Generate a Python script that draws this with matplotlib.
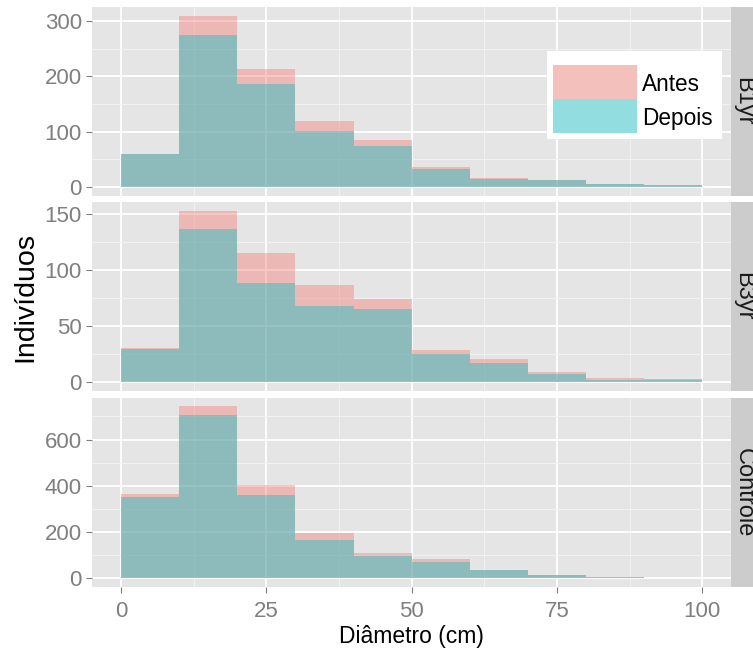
import numpy as np
import matplotlib.pyplot as plt
from matplotlib.patches import Rectangle

plt.rcParams['font.family'] = ['Liberation Sans', 'DejaVu Sans']

# histogram bins (left edges, width 10 cm)
bin_left = [0, 10, 20, 30, 40, 50, 60, 70, 80, 90]
bin_width = 10

facets = ['B1yr', 'B3yr', 'Controle']
b1_antes = [59, 309, 213, 119, 85, 37, 16, 13, 6, 3]
b1_depois = [59, 275, 186, 101, 75, 32, 14, 13, 6, 3]
b3_antes = [31, 153, 115, 87, 74, 29, 21, 9, 4, 2]
b3_depois = [30, 137, 89, 68, 65, 25, 17, 7, 2, 3]
ctrl_antes = [364, 743, 403, 198, 108, 85, 35, 14, 7, 0]
ctrl_depois = [352, 704, 360, 167, 97, 72, 35, 14, 7, 0]

y_major = [[0, 100, 200, 300], [0, 50, 100, 150], [0, 200, 400, 600]]
x_ticks = [0, 25, 50, 75, 100]
groups = ['Antes', 'Depois']
colors = ['#F8766D', '#00BFC4']
alpha = 0.4

W, H = 753, 649
fig = plt.figure(figsize=(W / 100, H / 100), dpi=100)

def rect(x0, y0, x1, y1):
    # pixel box (top-left origin) -> figure fraction rect
    return [x0 / W, 1 - y1 / H, (x1 - x0) / W, (y1 - y0) / H]

panel_y = [(7.3, 195.7), (202.3, 390.8), (397.8, 587.0)]
px0, px1 = 92, 731.3
data = [(b1_antes, b1_depois), (b3_antes, b3_depois), (ctrl_antes, ctrl_depois)]
grey50 = '#7F7F7F'

for i, (name, (antes, depois)) in enumerate(zip(facets, data)):
    y0, y1 = panel_y[i]
    ax = fig.add_axes(rect(px0, y0, px1, y1))
    ax.set_facecolor('#E5E5E5')
    for s in ax.spines.values():
        s.set_visible(False)
    ax.bar(bin_left, antes, width=bin_width, align='edge', color=colors[0], alpha=alpha, lw=0, zorder=3)
    ax.bar(bin_left, depois, width=bin_width, align='edge', color=colors[1], alpha=alpha, lw=0, zorder=4)
    ymax = max(max(antes), max(depois))
    ax.set_ylim(-0.05 * ymax, 1.05 * ymax)
    ax.set_xlim(-5, 105)
    ax.set_yticks(y_major[i])
    step = y_major[i][1] - y_major[i][0]
    ax.set_yticks(np.arange(step / 2, 1.05 * ymax, step), minor=True)
    ax.set_xticks(x_ticks)
    ax.set_xticks([12.5, 37.5, 62.5, 87.5], minor=True)
    ax.grid(which='major', color='white', lw=1.3, zorder=1)
    ax.grid(which='minor', color='#F2F2F2', lw=0.7, zorder=0)
    ax.set_axisbelow(True)
    ax.tick_params(which='minor', length=0)
    ax.tick_params(which='major', length=4.3, width=0.8, color=grey50, labelcolor=grey50,
                   labelsize=16, pad=3)
    ax.tick_params(axis='x', pad=6)
    if i < 2:
        ax.tick_params(axis='x', length=0, labelbottom=False)

    # facet strip on the right (partly cut by the figure edge)
    sax = fig.add_axes(rect(px1, y0, px1 + 40, y1))
    sax.set_facecolor('#CCCCCC')
    sax.set_xticks([])
    sax.set_yticks([])
    for s in sax.spines.values():
        s.set_visible(False)
    fig.text(732.5 / W, 1 - (y0 + y1) / 2 / H, name, rotation=270, ha='left', va='center',
             fontsize=17, color='#1A1A1A')

# axis titles
fig.text(25 / W, 1 - 297 / H, 'Indivíduos', rotation=90, ha='center', va='center', fontsize=20.5)
fig.text((px0 + px1) / 2 / W, 1 - 636.5 / H, 'Diâmetro (cm)', ha='center', va='center', fontsize=16.5)

# legend
fig.patches.append(Rectangle((547.3 / W, 1 - 138.7 / H), 175 / W, 88 / H,
                             transform=fig.transFigure, facecolor='white', edgecolor='none', zorder=10))
key_y = [(65, 99.3), (99.3, 133)]
for (k0, k1), g, c in zip(key_y, groups, colors):
    r = rect(552.7, k0, 636.7, k1)
    fig.patches.append(Rectangle((r[0], r[1]), r[2], r[3], transform=fig.transFigure,
                                 facecolor='#F2F2F2', edgecolor='none', zorder=11))
    fig.patches.append(Rectangle((r[0], r[1]), r[2], r[3], transform=fig.transFigure,
                                 facecolor=c, alpha=alpha, edgecolor='none', zorder=12))
    fig.text(641.7 / W, 1 - ((k0 + k1) / 2 + 2) / H, g, ha='left', va='center', fontsize=16.3, zorder=13)

plt.savefig('out.png', dpi=100)
